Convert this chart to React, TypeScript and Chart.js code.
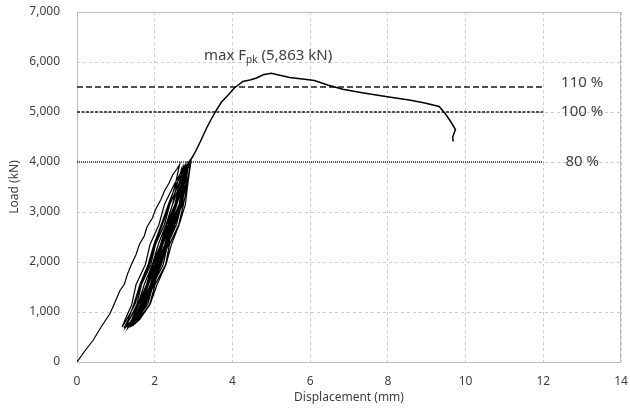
import { useEffect, useRef } from "react";
import { Chart, registerables } from "chart.js";

Chart.register(...registerables);

// Displacement (mm), Load (kN)
const initialLoading: [number, number][] = [
  [0, 0], [0.2, 220], [0.42, 440], [0.62, 700], [0.85, 970], [0.98, 1200], [1.1, 1420],
  [1.22, 1560], [1.3, 1760], [1.4, 1950], [1.52, 2150], [1.6, 2340], [1.73, 2520],
  [1.8, 2700], [1.94, 2880], [2.02, 3050], [2.16, 3250], [2.25, 3420], [2.37, 3580],
  [2.46, 3740], [2.57, 3860], [2.64, 3950],
];

const cyclicLoops: [number, number][] = [
  // cycle 1
  [2.53, 3550], [2.38, 3150], [2.2, 2750], [2.0, 2350], [1.86, 1950], [1.64, 1550], [1.49, 1150], [1.28, 850], [1.16, 700],
  [1.24, 850], [1.41, 1150], [1.52, 1550], [1.76, 1950], [1.88, 2350], [2.11, 2750], [2.25, 3150], [2.5, 3550], [2.8, 3960],
  // cycle 2
  [2.71, 3550], [2.63, 3150], [2.41, 2750], [2.26, 2350], [2.06, 1950], [1.89, 1550], [1.67, 1150], [1.49, 850], [1.31, 680],
  [1.42, 850], [1.57, 1150], [1.79, 1550], [1.94, 1950], [2.15, 2350], [2.3, 2750], [2.52, 3150], [2.64, 3550], [2.87, 3980],
  // cycle 3
  [2.8, 3550], [2.69, 3150], [2.56, 2750], [2.33, 2350], [2.22, 1950], [1.96, 1550], [1.82, 1150], [1.53, 850], [1.39, 710],
  [1.51, 850], [1.68, 1150], [1.9, 1550], [2.06, 1950], [2.26, 2350], [2.4, 2750], [2.63, 3150], [2.73, 3550], [2.74, 3900],
  // cycle 4
  [2.62, 3550], [2.56, 3150], [2.31, 2750], [2.19, 2350], [1.96, 1950], [1.83, 1550], [1.58, 1150], [1.43, 850], [1.25, 690],
  [1.35, 850], [1.54, 1150], [1.66, 1550], [1.9, 1950], [2.02, 2350], [2.25, 2750], [2.39, 3150], [2.61, 3550], [2.91, 3970],
  // cycle 5
  [2.84, 3550], [2.74, 3150], [2.62, 2750], [2.38, 2350], [2.28, 1950], [2.01, 1550], [1.87, 1150], [1.58, 850], [1.42, 720],
  [1.57, 850], [1.75, 1150], [1.92, 1550], [2.15, 1950], [2.29, 2350], [2.49, 2750], [2.65, 3150], [2.8, 3550], [2.81, 3940],
  // cycle 6
  [2.73, 3550], [2.65, 3150], [2.44, 2750], [2.28, 2350], [2.1, 1950], [1.92, 1550], [1.7, 1150], [1.5, 850], [1.33, 700],
  [1.46, 850], [1.62, 1150], [1.79, 1550], [2.0, 1950], [2.15, 2350], [2.35, 2750], [2.52, 3150], [2.68, 3550], [2.7, 3880],
  // cycle 7
  [2.57, 3550], [2.46, 3150], [2.29, 2750], [2.09, 2350], [1.94, 1950], [1.73, 1550], [1.57, 1150], [1.35, 850], [1.21, 680],
  [1.32, 850], [1.46, 1150], [1.62, 1550], [1.83, 1950], [1.98, 2350], [2.17, 2750], [2.35, 3150], [2.55, 3550], [2.85, 3960],
  // cycle 8
  [2.76, 3550], [2.72, 3150], [2.48, 2750], [2.36, 2350], [2.13, 1950], [1.99, 1550], [1.74, 1150], [1.56, 850], [1.37, 700],
  [1.5, 850], [1.67, 1150], [1.84, 1550], [2.06, 1950], [2.21, 2350], [2.4, 2750], [2.57, 3150], [2.73, 3550], [2.78, 3920],
  // cycle 9
  [2.68, 3550], [2.55, 3150], [2.42, 2750], [2.19, 2350], [2.08, 1950], [1.82, 1550], [1.69, 1150], [1.42, 850], [1.29, 690],
  [1.41, 850], [1.57, 1150], [1.73, 1550], [1.94, 1950], [2.09, 2350], [2.29, 2750], [2.46, 3150], [2.64, 3550], [2.93, 3990],
  // cycle 10
  [2.85, 3550], [2.79, 3150], [2.63, 2750], [2.43, 2350], [2.29, 1950], [2.06, 1550], [1.88, 1150], [1.61, 850], [1.44, 730],
  [1.59, 850], [1.78, 1150], [1.95, 1550], [2.17, 1950], [2.32, 2350], [2.52, 2750], [2.68, 3150], [2.82, 3550], [2.83, 3950],
  // cycle 11
  [2.75, 3550], [2.67, 3150], [2.47, 2750], [2.31, 2350], [2.13, 1950], [1.94, 1550], [1.73, 1150], [1.53, 850], [1.35, 700],
  [1.48, 850], [1.65, 1150], [1.81, 1550], [2.03, 1950], [2.18, 2350], [2.37, 2750], [2.54, 3150], [2.71, 3550], [2.88, 3990],
];

const envelope: [number, number][] = [
  [2.88, 3990], [2.97, 4100], [3.07, 4240], [3.2, 4450], [3.33, 4670], [3.45, 4850], [3.59, 5040], [3.72, 5200],
  [3.89, 5340], [4.05, 5480], [4.27, 5610], [4.45, 5640], [4.62, 5680], [4.79, 5745], [5.0, 5775],
  [5.25, 5730], [5.47, 5690], [5.8, 5660], [6.11, 5630], [6.45, 5540], [6.84, 5455], [7.3, 5390],
  [7.78, 5330], [8.2, 5280], [8.55, 5240], [8.95, 5180], [9.32, 5110], [9.42, 5020], [9.5, 4940],
  [9.6, 4830], [9.67, 4740], [9.74, 4650], [9.7, 4570], [9.67, 4500], [9.68, 4410],
];

const refLoads = [5500, 5000, 4000];
const refLabels = ["110 %", "100 %", "80 %"];
const refStartX = 0;
const refEndX = 12;
const refLabelX = 13;

const peakText = "max F";
const peakSub = "pk";
const peakRest = " (5,863 kN)";
const peakLabelX = 3.27;
const peakLabelY = 6050;

const xMin = 0, xMax = 14, xStep = 2;
const yMin = 0, yMax = 7000, yStep = 1000;

const FONT = "'Noto Sans', 'Open Sans', sans-serif";
const TEXT = "#404040";

export default function App() {
  const ref = useRef<HTMLCanvasElement | null>(null);

  useEffect(() => {
    document.body.style.margin = "0";
    const canvas = ref.current;
    if (!canvas) return;

    const toPts = (a: [number, number][]) => a.map(([x, y]) => ({ x, y }));
    const cycles = toPts([...initialLoading, ...cyclicLoops]);
    const env = toPts(envelope);
    const dashes = [[6, 3], [3, 1.5], [1, 1]];
    const refSets = refLoads.map((v, i) => ({
      data: [{ x: refStartX, y: v }, { x: refEndX, y: v }],
      borderColor: "#1a1a1a",
      borderWidth: 1.4,
      borderDash: dashes[i],
      pointRadius: 0,
      showLine: true,
    }));

    const framePlugin = {
      id: "frame",
      beforeDatasetsDraw(chart: any) {
        const { ctx, chartArea: a } = chart;
        ctx.save();
        ctx.strokeStyle = "#bfbfbf";
        ctx.lineWidth = 1;
        ctx.setLineDash([]);
        ctx.strokeRect(Math.round(a.left) + 0.5, Math.round(a.top) + 0.5, Math.round(a.right - a.left) - 1, Math.round(a.bottom - a.top));
        ctx.restore();
      },
    };

    const labelPlugin = {
      id: "labels",
      afterDatasetsDraw(chart: any) {
        const { ctx, scales } = chart;
        const xs = scales.x, ys = scales.y;
        ctx.save();
        ctx.fillStyle = TEXT;
        ctx.font = `15px ${FONT}`;
        ctx.textAlign = "center";
        ctx.textBaseline = "middle";
        const offs = [-4, 0, 0];
        refLabels.forEach((t, i) => {
          ctx.fillText(t, xs.getPixelForValue(refLabelX), ys.getPixelForValue(refLoads[i]) + offs[i]);
        });
        ctx.textAlign = "left";
        ctx.textBaseline = "alphabetic";
        let px = xs.getPixelForValue(peakLabelX);
        const py = ys.getPixelForValue(peakLabelY);
        ctx.font = `15px ${FONT}`;
        ctx.fillText(peakText, px, py);
        px += ctx.measureText(peakText).width;
        ctx.font = `10px ${FONT}`;
        ctx.fillText(peakSub, px, py + 3.5);
        px += ctx.measureText(peakSub).width;
        ctx.font = `15px ${FONT}`;
        ctx.fillText(peakRest, px, py);
        ctx.restore();
      },
    };

    const chart = new Chart(canvas, {
      type: "scatter",
      data: {
        datasets: [
          { data: cycles, borderColor: "#000000", borderWidth: 1.2, pointRadius: 0, showLine: true },
          { data: env, borderColor: "#000000", borderWidth: 1.5, pointRadius: 0, showLine: true },
          ...refSets,
        ] as any,
      },
      options: {
        responsive: false,
        animation: false,
        layout: { padding: { left: 0, right: 9, top: 12, bottom: 0 } },
        plugins: { legend: { display: false }, tooltip: { enabled: false } },
        scales: {
          x: {
            type: "linear",
            min: xMin,
            max: xMax,
            ticks: { stepSize: xStep, padding: 12, color: TEXT, font: { family: FONT, size: 12 } },
            grid: { color: "#cccccc", lineWidth: 1, drawTicks: false },
            border: { display: false, dash: [3, 3] },
            title: { display: true, text: "Displacement (mm)", color: TEXT, font: { family: FONT, size: 12 }, padding: { top: 0, bottom: 7 } },
            afterFit(scale: any) {
              scale.height = 50;
              scale.paddingLeft = 0;
              scale.paddingRight = 0;
            },
          },
          y: {
            type: "linear",
            min: yMin,
            max: yMax,
            ticks: {
              stepSize: yStep,
              padding: 17,
              color: TEXT,
              font: { family: FONT, size: 12 },
              callback: (v: any) => Number(v).toLocaleString("en-US"),
            },
            grid: { color: "#cccccc", lineWidth: 1, drawTicks: false },
            border: { display: false, dash: [3, 3] },
            title: { display: true, text: "Load (kN)", color: TEXT, font: { family: FONT, size: 12 }, padding: { top: 7, bottom: 0 } },
            afterFit(scale: any) {
              scale.width = 77;
              scale.paddingTop = 0;
              scale.paddingBottom = 0;
            },
          },
        },
      },
      plugins: [framePlugin, labelPlugin],
    });

    return () => chart.destroy();
  }, []);

  return (
    <div style={{ width: 630, height: 412 }}>
      <canvas ref={ref} width={630} height={412} style={{ display: "block" }} />
    </div>
  );
}
